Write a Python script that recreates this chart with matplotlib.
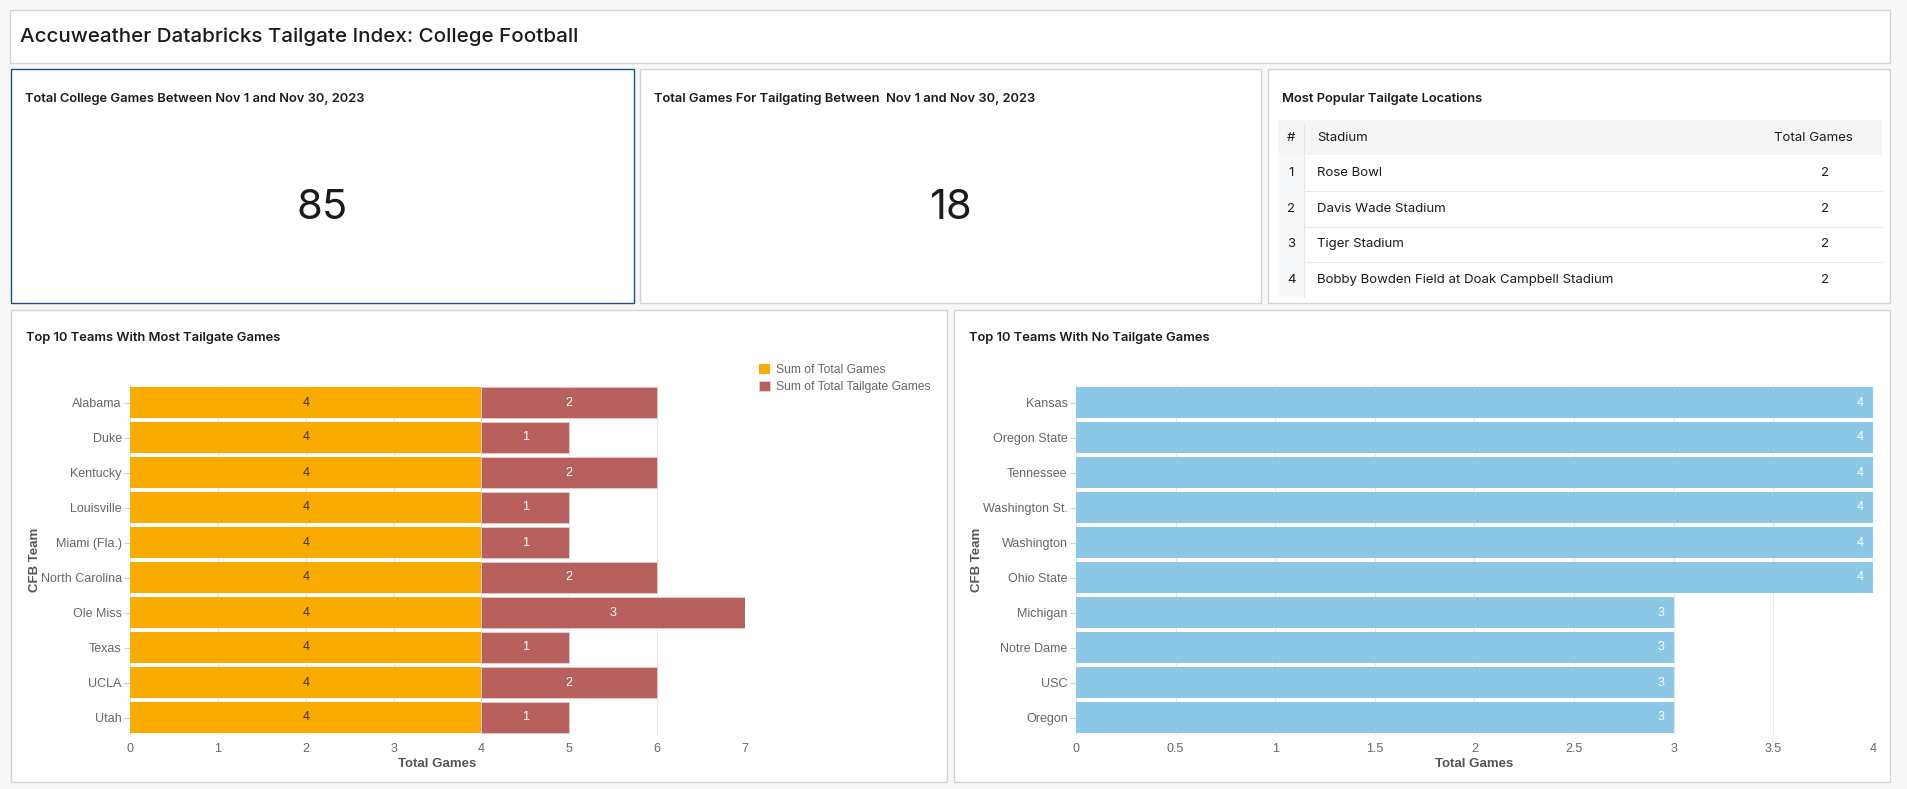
import matplotlib.pyplot as plt
from matplotlib import patches, lines

W, H = 1908, 789

# data
kpi_titles = ["Total College Games Between Nov 1 and Nov 30, 2023",
              "Total Games For Tailgating Between  Nov 1 and Nov 30, 2023"]
kpi_values = [85, 18]

stadiums = ["Rose Bowl", "Davis Wade Stadium", "Tiger Stadium",
            "Bobby Bowden Field at Doak Campbell Stadium"]
stadium_games = [2, 2, 2, 2]

top_teams = ["Alabama", "Duke", "Kentucky", "Louisville", "Miami (Fla.)",
             "North Carolina", "Ole Miss", "Texas", "UCLA", "Utah"]
top_total = [4, 4, 4, 4, 4, 4, 4, 4, 4, 4]
top_tailgate = [2, 1, 2, 1, 1, 2, 3, 1, 2, 1]

no_teams = ["Kansas", "Oregon State", "Tennessee", "Washington St.", "Washington",
            "Ohio State", "Michigan", "Notre Dame", "USC", "Oregon"]
no_total = [4, 4, 4, 4, 4, 4, 3, 3, 3, 3]

ORANGE = "#F9AB00"
RED = "#B7605E"
BLUE = "#8AC8E6"
TITLE_FONT = ["Inter", "DejaVu Sans"]
TICK_FONT = ["Liberation Sans Narrow", "Liberation Sans", "DejaVu Sans"]


def fx(x):
    return x / W


def fy(y):
    return 1 - y / H


def panel(fig, x0, y0, x1, y1, edge="#d4d4d4", lw=1.0):
    fig.add_artist(patches.Rectangle((fx(x0), fy(y1)), fx(x1 - x0), (y1 - y0) / H,
                                     transform=fig.transFigure, facecolor="white",
                                     edgecolor=edge, linewidth=lw, zorder=0))


def style_bar_axes(ax, xmax, ticks):
    ax.set_xlim(0, xmax)
    ax.set_ylim(9.5, -0.5)
    ax.set_xticks(ticks)
    for s in ax.spines.values():
        s.set_visible(False)
    ax.grid(axis="x", color="#e6e6e6", linewidth=0.8)
    ax.set_axisbelow(True)
    ax.tick_params(axis="x", length=0, pad=6, labelcolor="#666666", labelsize=9)
    ax.tick_params(axis="y", length=4, color="#d0d0d0", pad=2,
                   labelcolor="#666666", labelsize=9)
    for lab in ax.get_xticklabels() + ax.get_yticklabels():
        lab.set_family(TICK_FONT)
    ax.set_xlabel("Total Games", fontsize=9.5, fontweight="bold", color="#555555",
                  family=TICK_FONT, labelpad=2)
    ax.set_ylabel("CFB Team", fontsize=9.5, fontweight="bold", color="#555555",
                  family=TICK_FONT)


def main():
    fig = plt.figure(figsize=(W / 100, H / 100), dpi=100)
    fig.patch.set_facecolor("#f7f7f7")

    # title panel
    panel(fig, 10, 10, 1890, 63)
    fig.text(fx(20), fy(37), "Accuweather Databricks Tailgate Index: College Football",
             fontsize=14.8, family=TITLE_FONT, fontweight="medium", color="#1b1b1b",
             va="center")

    # KPI panels
    kpi_boxes = [(11, 69, 634, 303), (640, 69, 1261, 303)]
    for i, (box, t, v) in enumerate(zip(kpi_boxes, kpi_titles, kpi_values)):
        panel(fig, *box, edge="#1f4f86" if i == 0 else "#d4d4d4")
        fig.text(fx(box[0] + 14), fy(99), t, fontsize=9.3, family=TITLE_FONT,
                 fontweight="semibold", color="#1b1b1b", va="center")
        fig.text(fx((box[0] + box[2]) / 2), fy(208), str(v), fontsize=30,
                 family=TITLE_FONT, color="#1b1b1b", ha="center", va="center")

    # table panel
    panel(fig, 1268, 69, 1890, 303)
    fig.text(fx(1282), fy(99), "Most Popular Tailgate Locations", fontsize=9.3,
             family=TITLE_FONT, fontweight="semibold", color="#1b1b1b", va="center")
    tx0, tx1 = 1278, 1882
    fig.add_artist(patches.Rectangle((fx(tx0), fy(155)), fx(tx1 - tx0), 35 / H,
                                     transform=fig.transFigure, facecolor="#f5f5f5",
                                     edgecolor="none", zorder=1))
    fig.add_artist(patches.Rectangle((fx(tx0), fy(297)), fx(1304 - tx0), 142 / H,
                                     transform=fig.transFigure, facecolor="#f7f8f9",
                                     edgecolor="none", zorder=1))
    fig.add_artist(lines.Line2D([fx(1304), fx(1304)], [fy(124), fy(297)],
                                transform=fig.transFigure, color="#e4e4e4", lw=0.8))
    hdr_y = 138
    fig.text(fx(1291), fy(hdr_y), "#", fontsize=9.5, family=TITLE_FONT,
             color="#1b1b1b", ha="center", va="center")
    fig.text(fx(1317), fy(hdr_y), "Stadium", fontsize=9.5, family=TITLE_FONT,
             color="#1b1b1b", va="center")
    fig.text(fx(1853), fy(hdr_y), "Total Games", fontsize=9.5, family=TITLE_FONT,
             color="#1b1b1b", ha="right", va="center")
    row_h = 35.5
    for i, (s, g) in enumerate(zip(stadiums, stadium_games)):
        yc = 173 + i * row_h
        fig.text(fx(1291), fy(yc), str(i + 1), fontsize=9.5, family=TITLE_FONT,
                 color="#1b1b1b", ha="center", va="center")
        fig.text(fx(1317), fy(yc), s, fontsize=9.5, family=TITLE_FONT,
                 color="#1b1b1b", va="center")
        fig.text(fx(1825), fy(yc), str(g), fontsize=9.5, family=TITLE_FONT,
                 color="#1b1b1b", ha="center", va="center")
        if i < len(stadiums) - 1:
            fig.add_artist(lines.Line2D([fx(1304), fx(tx1)], [fy(yc + 18), fy(yc + 18)],
                                        transform=fig.transFigure, color="#e8e8e8", lw=0.8))

    # chart panels
    panel(fig, 11, 310, 947, 782)
    panel(fig, 954, 310, 1890, 782)
    fig.text(fx(26), fy(338), "Top 10 Teams With Most Tailgate Games", fontsize=9.3,
             family=TITLE_FONT, fontweight="semibold", color="#1b1b1b", va="center")
    fig.text(fx(969), fy(338), "Top 10 Teams With No Tailgate Games", fontsize=9.3,
             family=TITLE_FONT, fontweight="semibold", color="#1b1b1b", va="center")

    # left stacked bar chart
    ax1 = fig.add_axes([fx(130), fy(735), fx(745 - 130), 350 / H])
    y = list(range(len(top_teams)))
    b1 = ax1.barh(y, top_total, height=0.9, color=ORANGE, label="Sum of Total Games")
    b2 = ax1.barh(y, top_tailgate, left=top_total, height=0.9, color=RED,
                  edgecolor="#e8cfcf", linewidth=0.6, label="Sum of Total Tailgate Games")
    ax1.bar_label(b1, label_type="center", fontsize=9, color="#333333", family=TICK_FONT)
    ax1.bar_label(b2, label_type="center", fontsize=9, color="white", family=TICK_FONT)
    ax1.set_yticks(y, top_teams)
    style_bar_axes(ax1, 7, range(0, 8))
    ax1.yaxis.set_label_coords(-0.145, 0.5)
    leg = fig.legend(handles=[b1, b2], loc="upper left", frameon=False,
                     bbox_to_anchor=(fx(748), fy(353)), handlelength=0.9,
                     handleheight=0.9, handletextpad=0.5, labelspacing=0.4,
                     prop={"family": TICK_FONT, "size": 8.7})
    for t in leg.get_texts():
        t.set_color("#666666")

    # right bar chart
    ax2 = fig.add_axes([fx(1076), fy(735), fx(1873 - 1076), 350 / H])
    b3 = ax2.barh(y, no_total, height=0.9, color=BLUE)
    ax2.bar_label(b3, label_type="edge", padding=-12, fontsize=9, color="white",
                  family=TICK_FONT)
    ax2.set_yticks(y, no_teams)
    style_bar_axes(ax2, 4, [0, 0.5, 1, 1.5, 2, 2.5, 3, 3.5, 4])
    ax2.xaxis.set_major_formatter(lambda v, pos: f"{v:g}")
    ax2.yaxis.set_label_coords(-0.117, 0.5)

    fig.savefig("out.png", dpi=100, facecolor=fig.get_facecolor())


if __name__ == "__main__":
    main()
